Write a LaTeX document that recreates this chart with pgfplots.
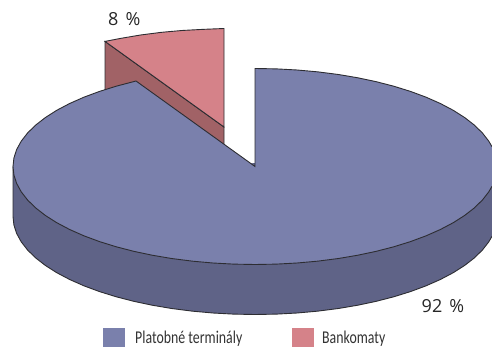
\documentclass[border=0pt]{standalone}
\usepackage{pgfplots}
\usepackage{fontspec}
\pgfplotsset{compat=1.18}
\setmainfont{Open Sans}
\newfontfamily\narrowfont[FakeStretch=0.77]{Carlito}
\definecolor{blueTop}{RGB}{122,128,172}
\definecolor{blueSide}{RGB}{95,99,135}
\definecolor{redTop}{RGB}{213,130,137}
\definecolor{redSide}{RGB}{161,98,102}
\definecolor{edge}{RGB}{45,45,50}
% Rim of the large slice's base; first row only closes the fill under the top face
\pgfplotstableread{
x y
492 160
13 166.5
13 216.5
13.92 225.04
16.68 233.52
21.24 241.86
27.59 250.02
35.67 257.92
45.42 265.5
56.77 272.71
69.62 279.49
83.88 285.8
99.44 291.57
116.19 296.78
134 301.37
152.73 305.32
172.23 308.59
192.37 311.16
212.98 313.01
233.91 314.13
255 314.5
276.09 314.13
297.02 313.01
317.63 311.16
337.77 308.59
357.27 305.32
376 301.37
393.81 296.78
410.56 291.57
426.12 285.8
440.38 279.49
453.23 272.71
464.58 265.5
474.33 257.92
482.41 250.02
488.76 241.86
492 236.3
}\baseRim
% Outline of the large slice's top face
\pgfplotstableread{
x y
492 186.3
488.76 191.86
482.41 200.02
474.33 207.92
464.58 215.5
453.23 222.71
440.38 229.49
426.12 235.8
410.56 241.57
393.81 246.78
376 251.37
357.27 255.32
337.77 258.59
317.63 261.16
297.02 263.01
276.09 264.13
255 264.5
233.91 264.13
212.98 263.01
192.37 261.16
172.23 258.59
152.73 255.32
134 251.37
116.19 246.78
99.44 241.57
83.88 235.8
69.62 229.49
56.77 222.71
45.42 215.5
35.67 207.92
27.59 200.02
21.24 191.86
16.68 183.52
13.92 175.04
13 166.5
13.92 157.96
16.68 149.48
21.24 141.14
27.59 132.98
35.67 125.08
45.42 117.5
56.77 110.29
69.62 103.51
83.88 97.2
99.44 91.43
116.19 86.22
136 81
255 166.5
255 68.5
276.09 68.87
297.02 69.99
317.63 71.84
337.77 74.41
357.27 77.68
376 81.63
393.81 86.22
410.56 91.43
426.12 97.2
440.38 103.51
453.23 110.29
464.58 117.5
474.33 125.08
482.41 132.98
488.76 141.14
492 146.7
}\bigTop
% Top face of the small slice
\pgfplotstableread{
x y
224 127
224 28.5
202.91 29.37
181.98 30.49
161.37 32.34
141.23 34.91
121.73 38.18
105 41.4
}\smallTop
\begin{document}
\begin{tikzpicture}
\useasboundingbox (0,0) rectangle (492pt,347pt);
\begin{axis}[
  scale only axis, width=492pt, height=347pt,
  xmin=0, xmax=492, ymin=0, ymax=347, y dir=reverse,
  hide axis, clip=true,
]
% small slice: side wall, then top face
\addplot[draw=edge, line width=0.9pt, fill=redSide] coordinates {(105,41.4) (224,127) (224,177) (105,91.4)} -- cycle;
\addplot[draw=edge, line width=0.9pt, fill=redTop] table {\smallTop} -- cycle;
% large slice: side wall, rim line, top face
\addplot[draw=none, fill=blueSide] table {\baseRim};
\addplot[draw=edge, line width=0.9pt, skip coords between index={0}{1}] table {\baseRim};
\addplot[draw=edge, line width=0.9pt, fill=blueTop] table {\bigTop};
% key swatches
\addplot[draw=none, fill=blueTop] coordinates {(103,328) (125,328) (125,347) (103,347)} -- cycle;
\addplot[draw=none, fill=redTop] coordinates {(292,328) (314,328) (314,347) (292,347)} -- cycle;
\node[anchor=base west, inner sep=0pt, font=\fontsize{18}{21}\selectfont, text=black!85] at (axis cs:108,26) {8 \kern2.5pt\%};
\node[anchor=base west, inner sep=0pt, font=\fontsize{18}{21}\selectfont, text=black!85] at (axis cs:421.5,312) {92 \kern2.5pt\%};
\node[anchor=base west, inner sep=0pt, font=\narrowfont\fontsize{18}{21}\selectfont, text=black!80] at (axis cs:135,343) {Platobné terminály};
\node[anchor=base west, inner sep=0pt, font=\narrowfont\fontsize{18}{21}\selectfont, text=black!80] at (axis cs:322,343) {Bankomaty};
\end{axis}
\end{tikzpicture}
\end{document}
